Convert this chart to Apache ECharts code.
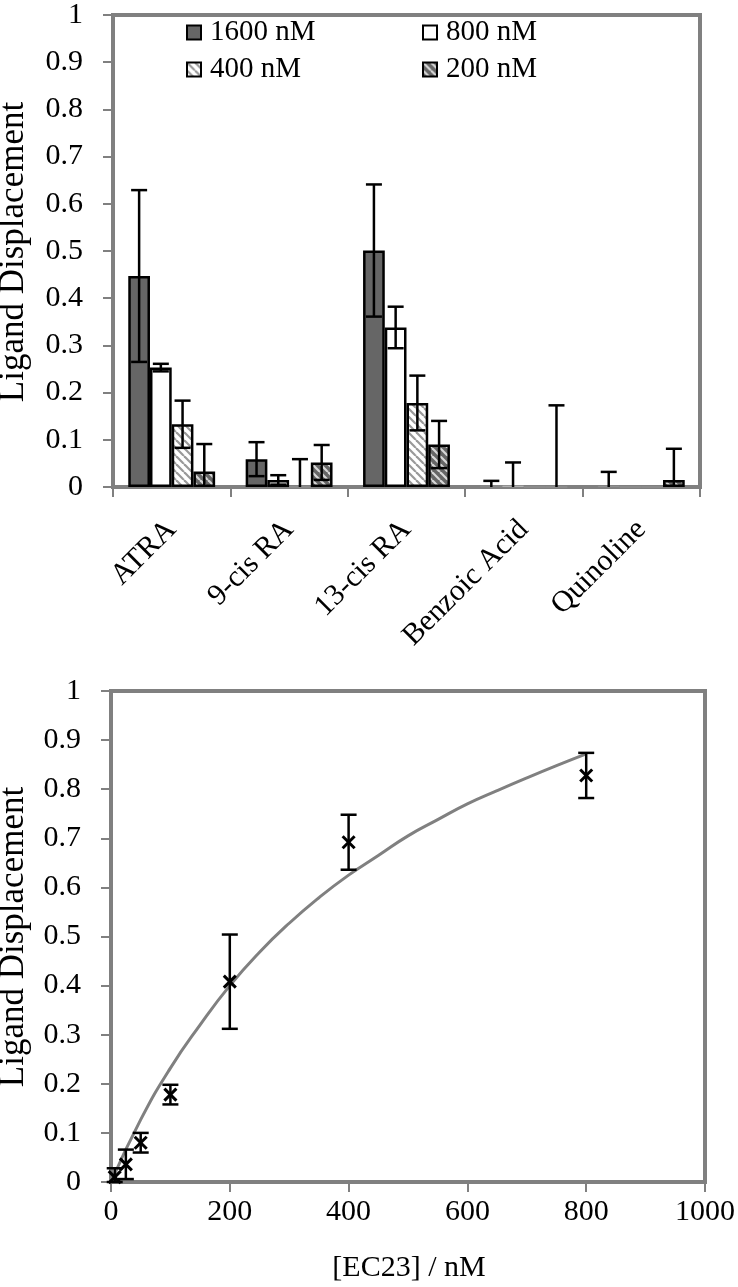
<!DOCTYPE html>
<html><head><meta charset="utf-8">
<script src="https://cdn.jsdelivr.net/npm/echarts@6/dist/echarts.min.js"></script>
<style>html,body{margin:0;padding:0;background:#fff}#c{width:738px;height:1287px}</style>
</head><body><div id="c"></div><script>
// ---- Top chart data ----
const categories = ['ATRA', '9-cis RA', '13-cis RA', 'Benzoic Acid', 'Quinoline'];
const seriesNames = ['1600 nM', '800 nM', '400 nM', '200 nM'];
const v1600 = [0.447, 0.059, 0.501, 0.003, 0.002];
const e1600 = [0.182, 0.036, 0.140, 0.010, 0.030];
const v800  = [0.253, 0.015, 0.338, 0.003, 0];
const e800  = [0.008, 0.010, 0.044, 0.049, 0];
const v400  = [0.133, 0, 0.178, 0, 0];
const e400  = [0.050, 0.059, 0.058, 0, 0];
const v200  = [0.033, 0.052, 0.090, 0, 0.015];
const e200  = [0.058, 0.037, 0.050, 0.173, 0.066];
const yTicks = [0, 0.1, 0.2, 0.3, 0.4, 0.5, 0.6, 0.7, 0.8, 0.9, 1];

// ---- Bottom chart data ----
const ec23Conc = [6.25, 25, 50, 100, 200, 400, 800];
const ec23Disp = [0.010, 0.036, 0.080, 0.178, 0.408, 0.692, 0.828];
const ec23Err  = [0.018, 0.030, 0.020, 0.020, 0.096, 0.056, 0.046];
const fitX = [0, 50, 100, 150, 200, 250, 300, 350, 400, 450, 500, 550, 600, 650, 700, 750, 800];
const fitY = [0, 0.127, 0.232, 0.320, 0.400, 0.468, 0.527, 0.579, 0.625, 0.665, 0.705, 0.738, 0.770, 0.797, 0.823, 0.848, 0.872];
const xTicks = [0, 200, 400, 600, 800, 1000];

const FONT = '"Liberation Serif","Times New Roman",serif';
const GRAY = '#808080';
const GAP = 0.26;

function makePattern(bg, fg) {
  const s = 8;
  const c = document.createElement('canvas');
  c.width = s; c.height = s;
  const g = c.getContext('2d');
  g.fillStyle = bg; g.fillRect(0, 0, s, s);
  g.strokeStyle = fg; g.lineWidth = 2.2;
  for (const off of [-s, 0, s]) {
    g.beginPath(); g.moveTo(off, 0); g.lineTo(off + s, s); g.stroke();
  }
  return { image: c, repeat: 'repeat' };
}
const fills = ['#666666', '#ffffff', makePattern('#ffffff', '#999999'), makePattern('#666666', '#d8d8d8')];
const vals = [v1600, v800, v400, v200];
const errs = [e1600, e800, e400, e200];

function barSeries(k) {
  return {
    name: seriesNames[k], type: 'bar', xAxisIndex: 0, yAxisIndex: 0,
    data: vals[k].map(v => v >= 0.005 ? v : { value: v, itemStyle: { borderWidth: 0.6, borderColor: '#999' } }),
    barGap: '0%', barCategoryGap: (GAP * 100) + '%',
    itemStyle: { color: fills[k], borderColor: '#000', borderWidth: 2.5 },
    emphasis: { disabled: true }, z: 3
  };
}
function errSeries(k) {
  return {
    type: 'custom', xAxisIndex: 0, yAxisIndex: 0, z: 10, silent: true,
    data: vals[k].map((v, i) => [i, v, errs[k][i]]),
    renderItem(params, api) {
      const i = api.value(0), v = api.value(1), e = api.value(2);
      if (!e) return null;
      const band = api.size([1, 0])[0];
      const bw = band * (1 - GAP) / 4;
      const cx = api.coord([i, 0])[0] + (k - 1.5) * bw;
      const yTop = api.coord([i, v + e])[1];
      const low = v - e;
      const yBot = api.coord([i, Math.max(0, low)])[1];
      const cap = 8;
      const st = { stroke: '#000', lineWidth: 2.5 };
      const ch = [
        { type: 'line', shape: { x1: cx, y1: yTop, x2: cx, y2: yBot }, style: st },
        { type: 'line', shape: { x1: cx - cap, y1: yTop, x2: cx + cap, y2: yTop }, style: st }
      ];
      if (low > 0) ch.push({ type: 'line', shape: { x1: cx - cap, y1: yBot, x2: cx + cap, y2: yBot }, style: st });
      return { type: 'group', children: ch };
    }
  };
}

const axisLine = { show: true, lineStyle: { color: GRAY, width: 4 } };
const axisTick = { show: true, inside: false, length: 10, lineStyle: { color: GRAY, width: 2 } };
const lbl = { color: '#000', fontFamily: FONT, fontSize: 30 };

const legendCommon = {
  orient: 'horizontal', padding: 0, itemWidth: 14, itemHeight: 14, icon: 'rect',
  selectedMode: false, itemStyle: { borderColor: '#000', borderWidth: 2 },
  textStyle: { color: '#000', fontFamily: FONT, fontSize: 29, padding: [0, 0, 0, 4] }
};

const option = {
  animation: false,
  backgroundColor: '#fff',
  grid: [
    { left: 113, right: 38, top: 14, bottom: 800, show: true, borderColor: GRAY, borderWidth: 4, backgroundColor: 'transparent' },
    { left: 111, right: 30, top: 691, bottom: 105, show: true, borderColor: GRAY, borderWidth: 4, backgroundColor: 'transparent' }
  ],
  legend: [
    Object.assign({ data: ['1600 nM'], left: 186, top: 18 }, legendCommon),
    Object.assign({ data: ['800 nM'], left: 422, top: 18 }, legendCommon),
    Object.assign({ data: ['400 nM'], left: 186, top: 55 }, legendCommon),
    Object.assign({ data: ['200 nM'], left: 422, top: 55 }, legendCommon)
  ],
  xAxis: [
    { type: 'category', gridIndex: 0, data: categories, boundaryGap: true,
      axisLine, axisTick: Object.assign({ alignWithLabel: false }, axisTick),
      axisLabel: Object.assign({ rotate: 45, margin: 38, interval: 0 }, lbl),
      splitLine: { show: false } },
    { type: 'value', gridIndex: 1, min: xTicks[0], max: xTicks[xTicks.length - 1], interval: 200,
      axisLine, axisTick, axisLabel: Object.assign({ margin: 15, formatter: v => String(v) }, lbl), splitLine: { show: false } }
  ],
  yAxis: [
    { type: 'value', gridIndex: 0, min: yTicks[0], max: yTicks[yTicks.length - 1], interval: 0.1,
      axisLine, axisTick, axisLabel: Object.assign({ margin: 30 }, lbl), splitLine: { show: false } },
    { type: 'value', gridIndex: 1, min: yTicks[0], max: yTicks[yTicks.length - 1], interval: 0.1,
      axisLine, axisTick, axisLabel: Object.assign({ margin: 30 }, lbl), splitLine: { show: false } }
  ],
  graphic: [
    { type: 'text', x: 14, y: 252, rotation: Math.PI / 2,
      style: { text: 'Ligand Displacement', font: '35px ' + FONT, fill: '#000', align: 'center', verticalAlign: 'middle' } },
    { type: 'text', x: 14, y: 937, rotation: Math.PI / 2,
      style: { text: 'Ligand Displacement', font: '35px ' + FONT, fill: '#000', align: 'center', verticalAlign: 'middle' } },
    { type: 'text', x: 409, y: 1268,
      style: { text: '[EC23] / nM', font: '30px ' + FONT, fill: '#000', align: 'center', verticalAlign: 'middle' } }
  ],
  series: [
    barSeries(0), barSeries(1), barSeries(2), barSeries(3),
    errSeries(0), errSeries(1), errSeries(2), errSeries(3),
    { type: 'line', xAxisIndex: 1, yAxisIndex: 1, data: fitX.map((x, i) => [x, fitY[i]]),
      smooth: true, showSymbol: false, symbol: 'none', lineStyle: { color: GRAY, width: 3 }, z: 2, silent: true },
    { type: 'custom', xAxisIndex: 1, yAxisIndex: 1, z: 10, silent: true,
      data: ec23Conc.map((x, i) => [x, ec23Disp[i], ec23Err[i]]),
      renderItem(params, api) {
        const x = api.value(0), y = api.value(1), e = api.value(2);
        const p = api.coord([x, y]);
        const t = api.coord([x, y + e]);
        const b = api.coord([x, Math.max(0, y - e)]);
        const cap = 8, m = 6;
        const st = { stroke: '#000', lineWidth: 2.5 };
        return { type: 'group', children: [
          { type: 'line', shape: { x1: t[0], y1: t[1], x2: b[0], y2: b[1] }, style: st },
          { type: 'line', shape: { x1: t[0] - cap, y1: t[1], x2: t[0] + cap, y2: t[1] }, style: st },
          { type: 'line', shape: { x1: b[0] - cap, y1: b[1], x2: b[0] + cap, y2: b[1] }, style: st },
          { type: 'line', shape: { x1: p[0] - m, y1: p[1] - m, x2: p[0] + m, y2: p[1] + m }, style: { stroke: '#000', lineWidth: 3 } },
          { type: 'line', shape: { x1: p[0] - m, y1: p[1] + m, x2: p[0] + m, y2: p[1] - m }, style: { stroke: '#000', lineWidth: 3 } }
        ] };
      } }
  ]
};
const chart = echarts.init(document.getElementById('c'), null, { renderer: 'canvas' });
chart.setOption(option);
</script></body></html>
